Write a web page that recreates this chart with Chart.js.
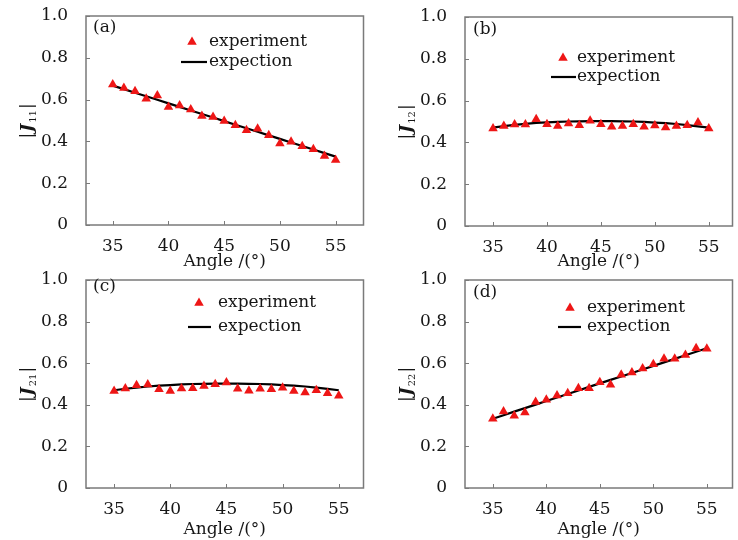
<!DOCTYPE html>
<html lang="en">
<head>
<meta charset="UTF-8">
<title>|J| vs Angle</title>
<script src="https://cdn.jsdelivr.net/npm/chart.js"></script>
<style>
  body { margin: 0; background: #fff; }
  .wrap { position: relative; width: 738px; height: 540px; overflow: hidden; }
  canvas { position: absolute; }
</style>
</head>
<body>
<div class="wrap">
  <canvas id="c11" width="369" height="272" style="left:0;top:0"></canvas>
  <canvas id="c12" width="369" height="272" style="left:369px;top:0"></canvas>
  <canvas id="c21" width="369" height="272" style="left:0;top:268px"></canvas>
  <canvas id="c22" width="369" height="272" style="left:369px;top:268px"></canvas>
</div>
<script>
const angles = [35, 36, 37, 38, 39, 40, 41, 42, 43, 44, 45, 46, 47, 48, 49, 50, 51, 52, 53, 54, 55];
const xTicks = [35, 40, 45, 50, 55];
const yTicks = [0, 0.2, 0.4, 0.6, 0.8, 1.0];

// measured |J| per angle, and the expected curve
const exp11 = [0.672, 0.656, 0.640, 0.604, 0.620, 0.564, 0.572, 0.553, 0.521, 0.517, 0.498, 0.477, 0.453, 0.461, 0.430, 0.390, 0.398, 0.377, 0.363, 0.330, 0.311];
const fit11 = [0.667, 0.650, 0.633, 0.616, 0.599, 0.582, 0.565, 0.548, 0.531, 0.514, 0.497, 0.480, 0.463, 0.446, 0.429, 0.412, 0.395, 0.378, 0.361, 0.344, 0.327];

const exp12 = [0.467, 0.479, 0.486, 0.486, 0.511, 0.487, 0.478, 0.490, 0.482, 0.503, 0.487, 0.475, 0.478, 0.487, 0.475, 0.481, 0.471, 0.478, 0.482, 0.495, 0.467];
const fit12 = [0.471, 0.478, 0.484, 0.489, 0.493, 0.496, 0.498, 0.500, 0.501, 0.502, 0.502, 0.502, 0.501, 0.500, 0.498, 0.495, 0.492, 0.488, 0.483, 0.477, 0.471];

const exp21 = [0.466, 0.478, 0.494, 0.498, 0.475, 0.466, 0.478, 0.480, 0.490, 0.499, 0.507, 0.477, 0.467, 0.477, 0.475, 0.482, 0.466, 0.459, 0.470, 0.455, 0.443];
const fit21 = [0.470, 0.477, 0.483, 0.488, 0.492, 0.495, 0.498, 0.500, 0.501, 0.502, 0.502, 0.502, 0.501, 0.500, 0.498, 0.495, 0.492, 0.488, 0.483, 0.477, 0.470];

const exp22 = [0.333, 0.368, 0.347, 0.363, 0.413, 0.424, 0.445, 0.456, 0.480, 0.480, 0.509, 0.496, 0.544, 0.555, 0.574, 0.595, 0.621, 0.621, 0.640, 0.672, 0.669];
const fit22 = [0.333, 0.350, 0.367, 0.384, 0.401, 0.418, 0.435, 0.452, 0.469, 0.486, 0.503, 0.520, 0.536, 0.553, 0.570, 0.587, 0.604, 0.621, 0.638, 0.655, 0.672];

const FONT = '"DejaVu Serif", "Liberation Serif", serif';
const RED = '#ee1616';
const INK = '#161616';
const FRAME = '#7a7a7a';

// layout of each panel inside its canvas
const panels = [
  { id: 'c11', tag: '(a)', sub: '11', exp: exp11, fit: fit11,
    area: { left: 86, top: 16, right: 367, bottom: 225 }, xMin: 32.6, xMax: 57.5,
    tagAt: [7, 12], tri: [106, 26], line: [95, 121, 46], text: 123 },
  { id: 'c12', tag: '(b)', sub: '12', exp: exp12, fit: fit12,
    area: { left: 96, top: 17, right: 367, bottom: 226 }, xMin: 32.4, xMax: 57.2,
    tagAt: [8, 13], tri: [98, 41], line: [86, 111, 60], text: 112 },
  { id: 'c21', tag: '(c)', sub: '21', exp: exp21, fit: fit21,
    area: { left: 86, top: 12, right: 364, bottom: 220 }, xMin: 32.5, xMax: 57.2,
    tagAt: [7, 7], tri: [113, 23], line: [102, 125, 47], text: 132 },
  { id: 'c22', tag: '(d)', sub: '22', exp: exp22, fit: fit22,
    area: { left: 96, top: 12, right: 367, bottom: 220 }, xMin: 32.4, xMax: 57.4,
    tagAt: [8, 13], tri: [105, 28], line: [93, 116, 47], text: 122 }
];

function triangle(ctx, x, y, r) {
  ctx.beginPath();
  ctx.moveTo(x, y - r);
  ctx.lineTo(x + r * Math.sin(2 * Math.PI / 3), y - r * Math.cos(2 * Math.PI / 3));
  ctx.lineTo(x + r * Math.sin(4 * Math.PI / 3), y - r * Math.cos(4 * Math.PI / 3));
  ctx.closePath();
  ctx.fillStyle = RED;
  ctx.fill();
}

function yTitle(ctx, x, y, sub) {
  const parts = [
    ['|', '17px ' + FONT, 6],
    ['J', 'italic bold 17px ' + FONT, 6],
    [sub, '10px ' + FONT, 10],
    ['|', '17px ' + FONT, 6]
  ];
  ctx.save();
  ctx.translate(x, y);
  ctx.rotate(-Math.PI / 2);
  ctx.fillStyle = INK;
  ctx.textBaseline = 'alphabetic';
  let total = 0;
  parts.forEach(p => { ctx.font = p[1]; total += ctx.measureText(p[0]).width + 1; });
  let cx = -total / 2;
  parts.forEach(p => {
    ctx.font = p[1];
    ctx.fillText(p[0], cx, p[2]);
    cx += ctx.measureText(p[0]).width + 1;
  });
  ctx.restore();
}

function decor(p) {
  return {
    id: 'decor',
    beforeDatasetsDraw(chart) {
      const { ctx, chartArea: a, scales } = chart;
      ctx.save();
      ctx.strokeStyle = FRAME;
      ctx.lineWidth = 1.5;
      ctx.strokeRect(a.left, a.top, a.right - a.left, a.bottom - a.top);
      ctx.lineWidth = 1;
      ctx.beginPath();
      xTicks.forEach(v => {
        const px = Math.round(scales.x.getPixelForValue(v)) + 0.5;
        ctx.moveTo(px, a.bottom);
        ctx.lineTo(px, a.bottom - 4);
      });
      yTicks.forEach(v => {
        const py = Math.round(scales.y.getPixelForValue(v)) + 0.5;
        ctx.moveTo(a.left, py);
        ctx.lineTo(a.left + 4, py);
      });
      ctx.stroke();
      ctx.restore();
    },
    afterDraw(chart) {
      const { ctx, chartArea: a } = chart;
      ctx.save();
      ctx.fillStyle = INK;
      ctx.font = '17px ' + FONT;
      ctx.textBaseline = 'middle';
      ctx.fillText(p.tag, a.left + p.tagAt[0], a.top + p.tagAt[1]);

      // legend
      triangle(ctx, a.left + p.tri[0], a.top + p.tri[1], 5.5);
      ctx.fillStyle = INK;
      ctx.fillText('experiment', a.left + p.text, a.top + p.tri[1]);
      ctx.strokeStyle = '#000';
      ctx.lineWidth = 2.2;
      ctx.beginPath();
      ctx.moveTo(a.left + p.line[0], a.top + p.line[2]);
      ctx.lineTo(a.left + p.line[1], a.top + p.line[2]);
      ctx.stroke();
      ctx.fillText('expection', a.left + p.text, a.top + p.line[2]);
      ctx.restore();

      yTitle(ctx, a.left - 60, (a.top + a.bottom) / 2, p.sub);
    }
  };
}

panels.forEach(p => {
  const canvas = document.getElementById(p.id);
  const W = canvas.width, H = canvas.height;
  new Chart(canvas.getContext('2d'), {
    type: 'scatter',
    data: {
      datasets: [
        {
          label: 'expection',
          data: angles.map((x, i) => ({ x, y: p.fit[i] })),
          showLine: true,
          borderColor: '#000',
          borderWidth: 2.2,
          pointRadius: 0,
          order: 2
        },
        {
          label: 'experiment',
          data: angles.map((x, i) => ({ x, y: p.exp[i] })),
          showLine: false,
          pointStyle: 'triangle',
          pointRadius: 5.5,
          backgroundColor: RED,
          borderWidth: 0,
          order: 1
        }
      ]
    },
    options: {
      responsive: false,
      animation: false,
      layout: { padding: { left: 0, top: p.area.top, right: W - p.area.right, bottom: 0 } },
      plugins: { legend: { display: false }, tooltip: { enabled: false } },
      scales: {
        x: {
          type: 'linear',
          min: p.xMin,
          max: p.xMax,
          grid: { display: false },
          border: { display: false },
          afterBuildTicks: s => { s.ticks = xTicks.map(v => ({ value: v })); },
          afterFit: s => { s.height = H - p.area.bottom; s.paddingLeft = 0; s.paddingRight = 0; },
          ticks: { color: INK, font: { family: FONT, size: 17 }, padding: 3, maxRotation: 0, callback: v => String(v) },
          title: { display: true, text: 'Angle /(°)', color: INK, font: { family: FONT, size: 17 }, padding: 0 }
        },
        y: {
          min: 0,
          max: 1,
          grid: { display: false },
          border: { display: false },
          afterBuildTicks: s => { s.ticks = yTicks.map(v => ({ value: v })); },
          afterFit: s => { s.width = p.area.left; s.paddingTop = 0; s.paddingBottom = 0; },
          ticks: { color: INK, font: { family: FONT, size: 17 }, padding: 10, callback: v => v === 0 ? '0' : v.toFixed(1) }
        }
      }
    },
    plugins: [decor(p)]
  });
});
</script>
</body>
</html>
